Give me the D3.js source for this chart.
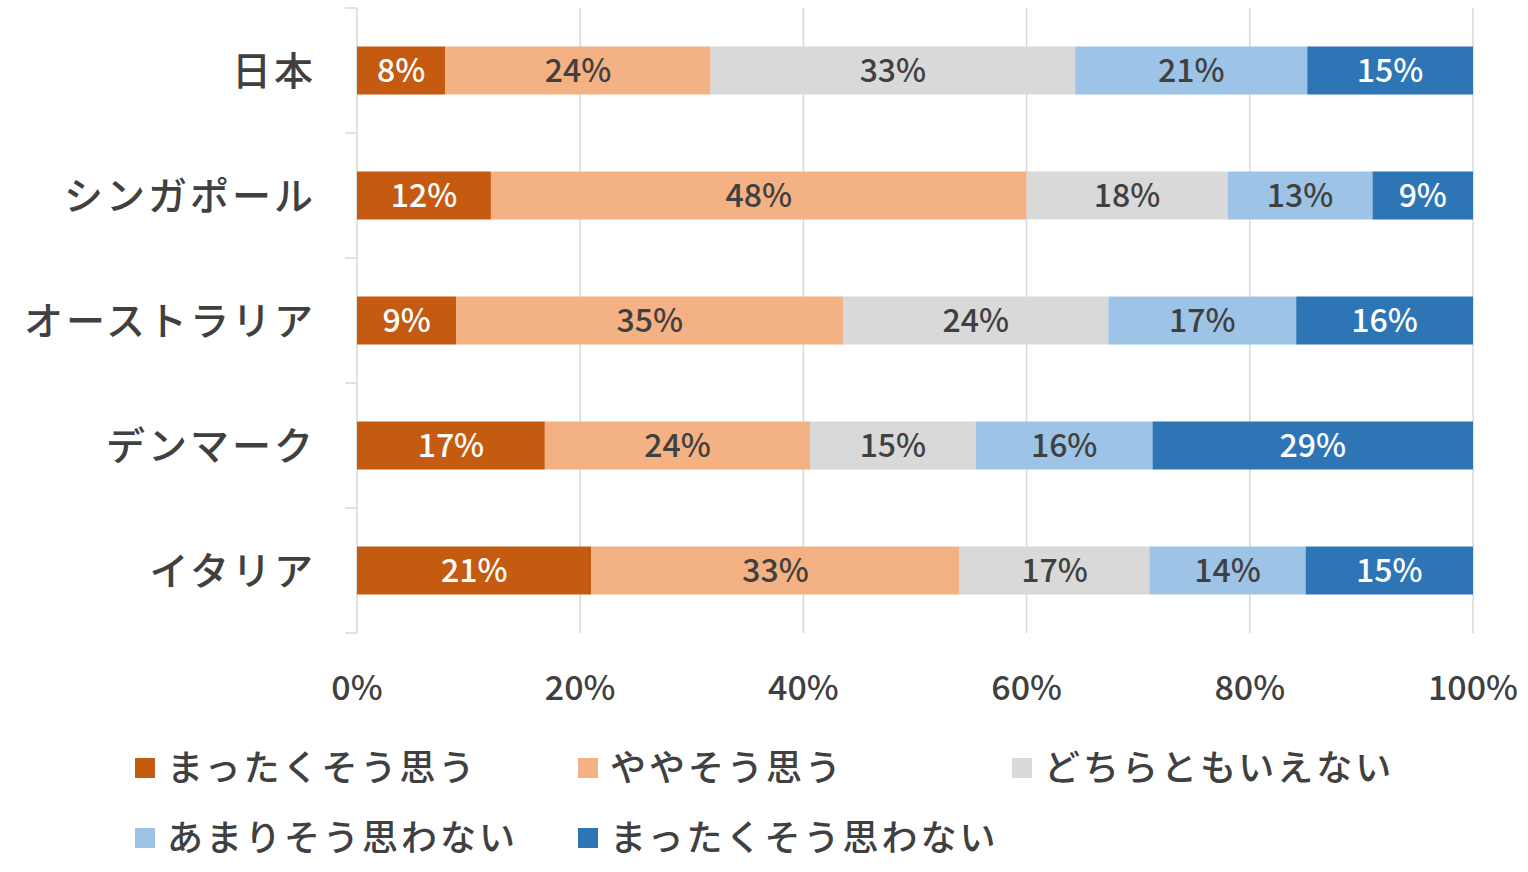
<!DOCTYPE html>
<html><head><meta charset="utf-8">
<script src="https://cdn.jsdelivr.net/npm/d3@7"></script>
<style>
html,body{margin:0;padding:0;background:#fff;}
svg{display:block;font-family:"Noto Sans CJK JP","Noto Sans",sans-serif;font-weight:500;}
</style></head>
<body>
<svg id="chart" width="1528" height="872"></svg>
<script>
const categories = ["日本","シンガポール","オーストラリア","デンマーク","イタリア"];
const seriesNames = ["まったくそう思う","ややそう思う","どちらともいえない","あまりそう思わない","まったくそう思わない"];
const strongYes = [8,12,9,17,21];
const someYes   = [24,48,35,24,33];
const neutral   = [33,18,24,15,17];
const someNo    = [21,13,17,16,14];
const strongNo  = [15,9,16,29,15];
const tickValues = [0,0.2,0.4,0.6,0.8,1];
const tickLabels = ["0%","20%","40%","60%","80%","100%"];
const colors = ["#C55A11","#F4B183","#D9D9D9","#9DC3E6","#2E75B6"];
const labelColors = ["#ffffff","#404040","#404040","#404040","#ffffff"];

const seriesArrays = [strongYes, someYes, neutral, someNo, strongNo];
const rows = categories.map((c,i)=>{
  const o = {cat:c};
  seriesNames.forEach((s,j)=>{ o[s] = seriesArrays[j][i]; });
  return o;
});
const stack = d3.stack().keys(seriesNames).offset(d3.stackOffsetExpand);
const stacked = stack(rows);

const svg = d3.select("#chart");
const x = d3.scaleLinear().domain([0,1]).range([357,1473]);
const y = d3.scaleBand().domain(categories).range([8,633]).paddingInner(0.616).paddingOuter(0.308);

// gridlines
svg.append("g").selectAll("line").data(tickValues.slice(1)).join("line")
  .attr("x1",d=>x(d)).attr("x2",d=>x(d)).attr("y1",8).attr("y2",633)
  .attr("stroke","#D9D9D9").attr("stroke-width",1.5);

// y axis line + ticks
svg.append("line").attr("x1",x(0)).attr("x2",x(0)).attr("y1",8).attr("y2",633)
  .attr("stroke","#D9D9D9").attr("stroke-width",1.5);
const bounds = categories.map(c=>y(c)-(y.step()-y.bandwidth())/2);
bounds.push(633);
svg.append("g").selectAll("line").data(bounds).join("line")
  .attr("x1",x(0)-12).attr("x2",x(0)).attr("y1",d=>d).attr("y2",d=>d)
  .attr("stroke","#D9D9D9").attr("stroke-width",1.5);

// bars
const g = svg.append("g");
stacked.forEach((layer,j)=>{
  const lg = g.append("g");
  lg.selectAll("rect").data(layer).join("rect")
    .attr("x",d=>x(d[0])).attr("width",d=>x(d[1])-x(d[0]))
    .attr("y",d=>y(d.data.cat)).attr("height",y.bandwidth())
    .attr("fill",colors[j]);
  lg.selectAll("text").data(layer).join("text")
    .attr("x",d=>(x(d[0])+x(d[1]))/2)
    .attr("y",d=>y(d.data.cat)+y.bandwidth()/2)
    .attr("dy","0.35em").attr("text-anchor","middle")
    .attr("font-size",32).attr("fill",labelColors[j])
    .text(d=>d.data[layer.key]+"%");
});

// category labels
svg.append("g").selectAll("text").data(categories).join("text")
  .attr("x",316).attr("y",d=>y(d)+y.bandwidth()/2).attr("dy","0.36em")
  .attr("text-anchor","end").attr("font-size",39).attr("letter-spacing",3).attr("fill","#404040")
  .text(d=>d);

// x tick labels
svg.append("g").selectAll("text").data(tickValues).join("text")
  .attr("x",d=>x(d)).attr("y",688).attr("dy","0.35em").attr("text-anchor","middle")
  .attr("font-size",34).attr("fill","#404040")
  .text((d,i)=>tickLabels[i]);

// legend
const legendPos = [[135,768],[578,768],[1012,768],[135,838],[578,838]];
const lg = svg.append("g").selectAll("g").data(seriesNames).join("g")
  .attr("transform",(d,i)=>`translate(${legendPos[i][0]},${legendPos[i][1]})`);
lg.append("rect").attr("x",0).attr("y",-10).attr("width",20).attr("height",20)
  .attr("fill",(d,i)=>colors[i]);
lg.append("text").attr("x",32).attr("y",0).attr("dy","0.36em")
  .attr("font-size",36).attr("letter-spacing",3).attr("fill","#404040").text(d=>d);
</script>
</body></html>
